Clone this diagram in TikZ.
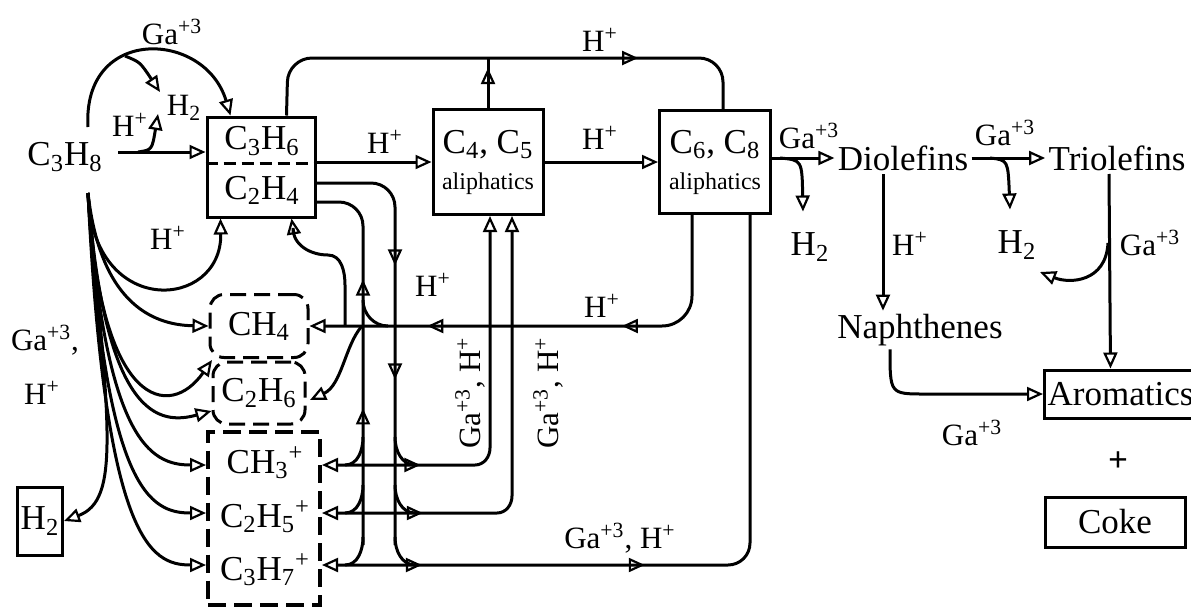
\documentclass[tikz,border=0pt]{standalone}
\usepackage{fontspec}
\setmainfont{Liberation Serif}
\usetikzlibrary{positioning,calc}
\usetikzlibrary{arrows.meta,decorations.markings}
\newcommand{\sbs}[1]{\textsubscript{#1}}
\newcommand{\sps}[1]{\textsuperscript{#1}}
\tikzset{
	>={Triangle[open,length=8pt,width=7pt,line width=1.1pt]},
	spec/.style={font=\fontsize{17.5}{19}\selectfont,inner sep=1pt},
	lbl/.style={font=\fontsize{15.5}{17}\selectfont,inner sep=1pt},
	box/.style={draw,line width=1.5pt,inner sep=1pt},
	cbox/.style={draw,line width=1.5pt,dash pattern=on 8pt off 4pt,rounded corners=7pt},
	arrat/.style={postaction={decorate,decoration={markings,mark=at position #1 with {\arrow{>}}}}},
	arrbk/.style={postaction={decorate,decoration={markings,mark=at position #1 with {\arrowreversed{>}}}}},
}

\begin{document}
\begin{tikzpicture}[x=0.5pt,y=-0.5pt,line width=1.5pt]
	\useasboundingbox (0,0) rectangle (1191,607);
	% species
	\node[spec] (c3h8) at (65,157) {C\sbs{3}H\sbs{8}};
	\node[box,minimum width=54pt,minimum height=50pt] (olef) at (261,167) {};
	\node[spec] (c3h6) at (262,141) {C\sbs{3}H\sbs{6}};
	\node[spec] (c2h4) at (262,190) {C\sbs{2}H\sbs{4}};
	\draw[dash pattern=on 6pt off 3pt] (olef.west |- 0,163) -- (olef.east |- 0,163);
	\node[box,spec,align=center,minimum width=55pt,minimum height=52.5pt] (c45) at (488,162)
		{C\sbs{4}, C\sbs{5}\\[-1pt]{\fontsize{12}{13}\selectfont aliphatics}};
	\node[box,spec,align=center,minimum width=55.5pt,minimum height=51.5pt] (c68) at (715,162)
		{C\sbs{6}, C\sbs{8}\\[-1pt]{\fontsize{12}{13}\selectfont aliphatics}};
	\node[spec] (diol) at (903,158) {Diolefins};
	\node[spec] (triol) at (1117,158) {Triolefins};
	\node[spec] (h2a) at (810,247) {H\sbs{2}};
	\node[spec] (h2b) at (1017,245) {H\sbs{2}};
	\node[spec] (naph) at (920,330) {Naphthenes};
	\node[box,spec,anchor=west,minimum width=76pt,minimum height=24pt] (arom) at (1043,394) {Aromatics};
	\node[spec] (plus) at (1118,462) {\textbf{+}};
	\node[box,spec,minimum width=70pt,minimum height=25pt] (coke) at (1115,522) {Coke};
	\node[cbox,spec,minimum width=49pt,minimum height=31.5pt] (ch4) at (259,326) {CH\sbs{4}};
	\node[cbox,spec,minimum width=46pt,minimum height=31pt] (c2h6) at (259,393) {C\sbs{2}H\sbs{6}};
	\node[draw,line width=2pt,dash pattern=on 9pt off 4pt,minimum width=56pt,minimum height=86.5pt] (cat) at (264,518) {};
	\node[spec] (ch3p) at (265,463) {CH\sbs{3}\sps{+}};
	\node[spec] (c2h5p) at (265,517) {C\sbs{2}H\sbs{5}\sps{+}};
	\node[spec] (c3h7p) at (265,570) {C\sbs{3}H\sbs{7}\sps{+}};
	\node[box,spec,minimum width=22.5pt,minimum height=34pt] (h2box) at (40,521) {H\sbs{2}};
	% catalyst labels
	\node[lbl] at (172,32) {Ga\sps{+3}};
	\node[lbl] at (184,108) {H\sbs{2}};
	\node[lbl] at (130,125) {H\sps{+}};
	\node[lbl] at (168,238) {H\sps{+}};
	\node[lbl] at (45,340) {Ga\sps{+3},};
	\node[lbl] at (42,393) {H\sps{+}};
	\node[lbl] at (385,142) {H\sps{+}};
	\node[lbl] at (600,40) {H\sps{+}};
	\node[lbl] at (600,138) {H\sps{+}};
	\node[lbl] at (809,136) {Ga\sps{+3}};
	\node[lbl] at (1005,133) {Ga\sps{+3}};
	\node[lbl] at (910,244) {H\sps{+}};
	\node[lbl] at (1150,243) {Ga\sps{+3}};
	\node[lbl] at (972,433) {Ga\sps{+3}};
	\node[lbl] at (433,285) {H\sps{+}};
	\node[lbl] at (602,306) {H\sps{+}};
	\node[lbl,rotate=90] at (470,393) {Ga\sps{+3}, H\sps{+}};
	\node[lbl,rotate=90] at (548,393) {Ga\sps{+3}, H\sps{+}};
	\node[lbl] at (620,538) {Ga\sps{+3}, H\sps{+}};
	% connectors
	\coordinate (fan) at (88,193);
	\coordinate (r1) at (0,465);
	\coordinate (r2) at (0,513);
	\coordinate (r3) at (0,565);
	\draw[->] (88,127) .. controls (82,25) and (205,30) .. ($(olef.north west)+(25,0)$);
	\draw[->] (125,56) .. controls (140,62) .. (160,92);
	\draw[->] (118,152) -- ($(olef.west)+(0,-15)$);
	\draw[->] (138,152) .. controls (152,150) .. (158,114);
	\draw[->] (fan) .. controls (92,320) and (222,310) .. ($(olef.south west)+(15,0)$);
	\draw[->] (fan) .. controls (100,300) and (150,325) .. (ch4.west);
	\draw[->] (fan) .. controls (100,410) and (170,420) .. (212,360);
	\draw[->] (fan) .. controls (105,420) and (160,425) .. ($(c2h6.west)+(0,18)$);
	\draw[->] (fan) .. controls (105,440) and (150,465) .. (cat.west |- r1);
	\draw[->] (fan) .. controls (105,490) and (150,513) .. (cat.west |- r2);
	\draw[->] (fan) .. controls (105,540) and (150,565) .. (cat.west |- r3);
	\draw[->] (fan) .. controls (110,430) and (120,500) .. (h2box.east);
	% olefins to higher aliphatics
	\draw[->] (olef.east |- c45.west) -- (c45.west);
	\draw[rounded corners=12pt,arrat=0.76] ($(olef.north west)+(81,0)$) -- (288,58) -- (723,58) -- ($(c68.north)+(8,0)$);
	\draw[arrat=0.8] (c45.north) -- (488,58);
	\draw[->] (c45.east) -- (c68.west);
	\draw[->] (c68.east |- diol.west) -- (diol.west);
	\draw[->] (780,158) .. controls (802,160) .. ($(h2a.north)+(-7,-18)$);
	\draw[->] (diol.east) -- (triol.west);
	\draw[->] (990,158) .. controls (1008,160) .. ($(h2b.north)+(-7,-18)$);
	\draw[->] ($(diol.south)+(-20,0)$) -- ($(naph.north)+(-37,0)$);
	\draw[->] ($(triol.south)+(-8,0)$) -- ($(arom.north)+(-10,0)$);
	\draw[->] (1108,243) .. controls (1106,282) and (1070,284) .. (1040,272);
	\draw[->] ($(naph.south)+(-30,0)$) .. controls (890,394) .. (925,394) -- (arom.west);
	% cracking and hydride transfer
	\draw[<-,rounded corners=15pt,arrbk=0.245,arrbk=0.65] (ch4.east) -- (692,326) -- ($(c68.south)+(-23,0)$);
	\draw[<-] ($(olef.south west)+(86,0)$) -- (293,228) to[out=-90,in=180] (328,255) to[out=0,in=90] (345,285) -- (345,326);
	\draw[->] (362,326) .. controls (345,345) and (342,385) .. (310,400);
	\draw[rounded corners=12pt,arrbk=0.3,arrbk=0.64] ($(olef.east)+(0,35)$) -- (363,202) -- (363,545);
	\draw (388,326) to[out=180,in=-90] (363,300);
	\draw[rounded corners=12pt,arrat=0.35,arrat=0.615] ($(olef.east)+(0,16)$) -- (395,183) -- (395,545);
	\foreach \r in {r1,r2,r3}{
		\draw ($(363,0)+(\r)+(0,-28)$) to[out=-90,in=0] ($(345,0)+(\r)$);
		\draw ($(395,0)+(\r)+(0,-28)$) to[out=-90,in=180] ($(415,0)+(\r)$);
	}
	\draw[<->,arrat=0.24] (cat.east |- r1) -- (475,465) to[out=0,in=-90] (490,448) -- ($(c45.south)+(2,0)$);
	\draw[<->,arrat=0.21] (cat.east |- r2) -- (497,513) to[out=0,in=-90] (512,496) -- ($(c45.south)+(24,0)$);
	\draw[<-,arrat=0.13,arrat=0.42] (cat.east |- r3) -- (728,565) to[out=0,in=-90] (750,543) -- ($(c68.south)+(35,0)$);
\end{tikzpicture}
\end{document}
